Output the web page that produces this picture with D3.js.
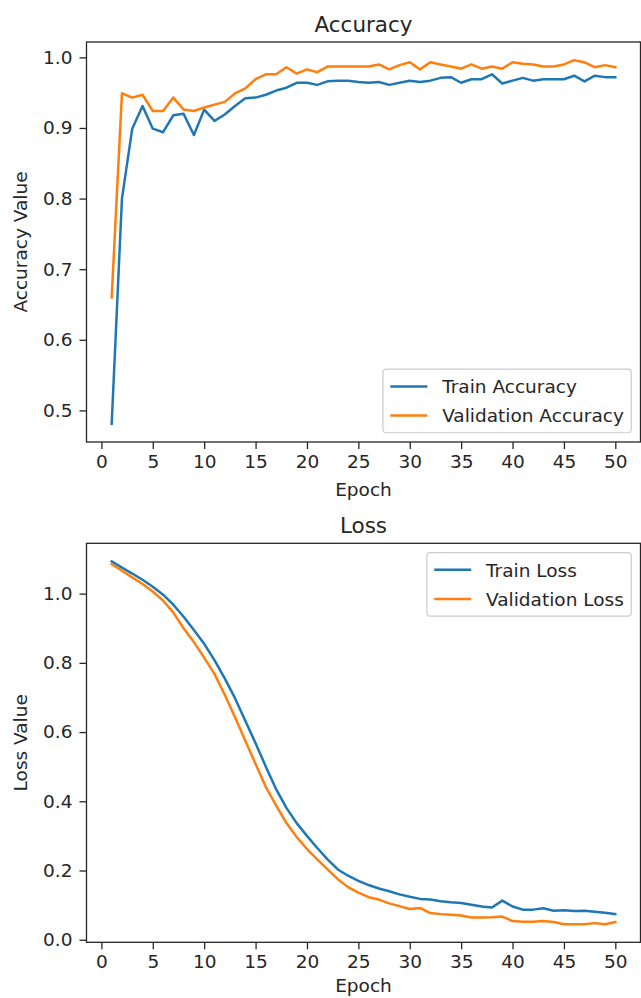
<!DOCTYPE html>
<html><head><meta charset="utf-8">
<script src="https://cdn.jsdelivr.net/npm/d3@7"></script>
<style>html,body{margin:0;padding:0;background:#fff}svg{display:block}</style>
</head><body>
<script>
const epochs = [1,2,3,4,5,6,7,8,9,10,11,12,13,14,15,16,17,18,19,20,21,22,23,24,25,
  26,27,28,29,30,31,32,33,34,35,36,37,38,39,40,41,42,43,44,45,46,47,48,49,50];

const trainAccuracy = [0.481,0.800,0.899,0.931,0.899,0.894,0.918,0.920,0.890,0.926,
  0.910,0.919,0.931,0.942,0.943,0.947,0.953,0.957,0.964,0.964,
  0.961,0.966,0.967,0.967,0.965,0.964,0.965,0.961,0.964,0.967,
  0.965,0.967,0.971,0.972,0.964,0.969,0.969,0.976,0.963,0.967,
  0.971,0.967,0.969,0.969,0.969,0.974,0.966,0.974,0.972,0.972];

const valAccuracy = [0.660,0.949,0.943,0.947,0.924,0.924,0.943,0.926,0.924,0.929,
  0.933,0.937,0.949,0.956,0.969,0.976,0.976,0.986,0.977,0.983,
  0.979,0.987,0.987,0.987,0.987,0.987,0.990,0.983,0.989,0.993,
  0.983,0.993,0.990,0.987,0.984,0.990,0.984,0.987,0.984,0.993,
  0.991,0.990,0.987,0.987,0.990,0.996,0.993,0.986,0.989,0.986];

const trainLoss = [1.093,1.075,1.058,1.040,1.020,0.997,0.968,0.933,0.895,0.855,
  0.808,0.755,0.698,0.633,0.568,0.500,0.435,0.381,0.337,0.300,
  0.265,0.232,0.203,0.185,0.170,0.158,0.148,0.140,0.131,0.124,
  0.118,0.116,0.111,0.108,0.106,0.101,0.096,0.093,0.113,0.096,
  0.087,0.087,0.091,0.084,0.085,0.083,0.084,0.081,0.078,0.074];

const valLoss = [1.085,1.066,1.047,1.028,1.006,0.980,0.945,0.900,0.860,0.815,
  0.768,0.708,0.643,0.575,0.508,0.441,0.388,0.337,0.297,0.262,
  0.232,0.203,0.175,0.152,0.136,0.123,0.116,0.105,0.097,0.089,
  0.092,0.077,0.074,0.072,0.070,0.064,0.064,0.065,0.067,0.054,
  0.052,0.052,0.054,0.051,0.045,0.045,0.045,0.048,0.045,0.051];

const xTicks = [0,5,10,15,20,25,30,35,40,45,50];
const accTicks = [0.5,0.6,0.7,0.8,0.9,1.0];
const lossTicks = [0.0,0.2,0.4,0.6,0.8,1.0];

const W = 641, H = 998;
const FONT = "'DejaVu Sans', sans-serif";
const FS = 18.5, TITLE_FS = 21.5;
const BLUE = "#1f77b4", ORANGE = "#ff7f0e", INK = "#262626";

const svg = d3.select("body").append("svg")
  .attr("width", W).attr("height", H)
  .style("font-family", FONT);

function padded(arrs) {
  const all = [].concat(...arrs);
  const [lo, hi] = d3.extent(all);
  const m = (hi - lo) * 0.05;
  return [lo - m, hi + m];
}

const xPad = padded([epochs]);

function panel(cfg) {
  const {top, bottom, left, right, series, yTicks, title, ylabel, legendPos, id, xlabelOffset} = cfg;
  const g = svg.append("g");
  const x = d3.scaleLinear().domain(xPad).range([left, right]);
  const y = d3.scaleLinear().domain(padded(series.map(s => s.values))).range([bottom, top]);

  g.append("clipPath").attr("id", id).append("rect")
    .attr("x", left).attr("y", top).attr("width", right - left).attr("height", bottom - top);

  const line = d3.line().x((d, i) => x(epochs[i])).y(d => y(d));
  const lg = g.append("g").attr("clip-path", `url(#${id})`);
  series.forEach(s => {
    lg.append("path").datum(s.values).attr("d", line)
      .attr("fill", "none").attr("stroke", s.color).attr("stroke-width", 2.5)
      .attr("stroke-linejoin", "round").attr("stroke-linecap", "square");
  });

  const xAxis = d3.axisBottom(x).tickValues(xTicks).tickSize(7).tickPadding(6).tickFormat(d3.format("d"));
  const yAxis = d3.axisLeft(y).tickValues(yTicks).tickSize(7).tickPadding(7).tickFormat(d3.format(".1f"));
  const gx = g.append("g").attr("transform", `translate(0,${bottom})`).call(xAxis);
  const gy = g.append("g").attr("transform", `translate(${left},0)`).call(yAxis);
  [gx, gy].forEach(a => {
    a.select(".domain").remove();
    a.selectAll(".tick line").attr("stroke", INK).attr("stroke-width", 1.3);
    a.selectAll(".tick text").attr("fill", INK).style("font-size", FS + "px").style("font-family", FONT);
  });

  g.append("rect").attr("x", left).attr("y", top)
    .attr("width", right - left).attr("height", bottom - top)
    .attr("fill", "none").attr("stroke", INK).attr("stroke-width", 1.3);

  g.append("text").attr("x", (left + right) / 2).attr("y", top - 10)
    .attr("text-anchor", "middle").attr("fill", INK)
    .style("font-size", TITLE_FS + "px").text(title);
  g.append("text").attr("x", (left + right) / 2).attr("y", bottom + xlabelOffset)
    .attr("text-anchor", "middle").attr("fill", INK)
    .style("font-size", FS + "px").text("Epoch");
  g.append("text").attr("transform", `translate(27,${(top + bottom) / 2}) rotate(-90)`)
    .attr("text-anchor", "middle").attr("fill", INK)
    .style("font-size", FS + "px").text(ylabel);

  const em = FS;
  const bp = 0.4 * em, hl = 2 * em, htp = 0.8 * em, ls = 0.5 * em, rowH = 1.07 * em, bap = 0.5 * em;
  const leg = g.append("g");
  const box = leg.append("rect");
  const texts = series.map(s => leg.append("text").style("font-size", FS + "px").attr("fill", INK).text(s.label));
  const tw = d3.max(texts, t => t.node().getComputedTextLength());
  const lw = bp * 2 + hl + htp + tw;
  const lh = bp * 2 + rowH * series.length + ls * (series.length - 1);
  const lx = right - bap - lw;
  const ly = legendPos === "lower" ? bottom - bap - lh : top + bap;
  box.attr("x", lx).attr("y", ly).attr("width", lw).attr("height", lh)
    .attr("rx", 3.5).attr("fill", "#fff").attr("fill-opacity", 0.8)
    .attr("stroke", "#cccccc").attr("stroke-width", 1.2);
  series.forEach((s, i) => {
    const cy = ly + bp + rowH / 2 + i * (rowH + ls);
    leg.append("line").attr("x1", lx + bp).attr("x2", lx + bp + hl)
      .attr("y1", cy).attr("y2", cy).attr("stroke", s.color).attr("stroke-width", 2.5);
    texts[i].attr("x", lx + bp + hl + htp).attr("y", cy).attr("dy", "0.36em");
  });
}

panel({
  id: "clipA", top: 42, bottom: 442, left: 86.5, right: 640.5, xlabelOffset: 54,
  series: [
    {label: "Train Accuracy", values: trainAccuracy, color: BLUE},
    {label: "Validation Accuracy", values: valAccuracy, color: ORANGE}
  ],
  yTicks: accTicks, title: "Accuracy", ylabel: "Accuracy Value", legendPos: "lower"
});

panel({
  id: "clipB", top: 543.3, bottom: 942.3, left: 86.5, right: 640.5, xlabelOffset: 50,
  series: [
    {label: "Train Loss", values: trainLoss, color: BLUE},
    {label: "Validation Loss", values: valLoss, color: ORANGE}
  ],
  yTicks: lossTicks, title: "Loss", ylabel: "Loss Value", legendPos: "upper"
});
</script>
</body></html>
